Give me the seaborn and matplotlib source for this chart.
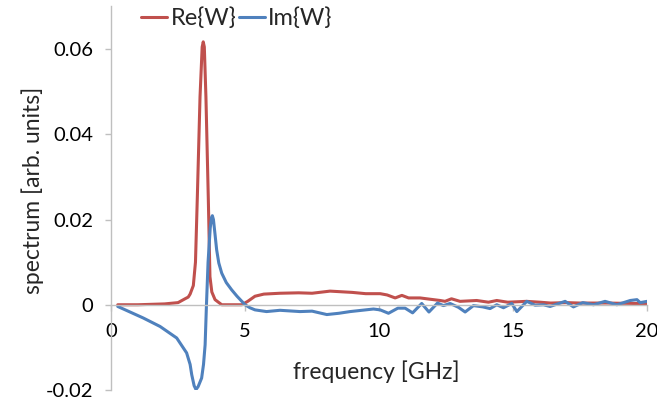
"""Re/Im spectrum of W vs frequency"""

import pandas as pd
import matplotlib
matplotlib.use("Agg")
import matplotlib.pyplot as plt
import seaborn as sns

re_freq = [0.25, 1.0, 2.0, 2.5, 2.76, 2.88, 2.95, 3.07, 3.15, 3.22, 3.32, 3.40, 3.44,
           3.48, 3.54, 3.63, 3.69, 3.76, 3.88, 4.13, 4.88, 5.1, 5.37, 5.7, 6.3, 7.0,
           7.5, 8.17, 9.0, 9.5, 10.04, 10.3, 10.6, 10.85, 11.1, 11.53, 11.9, 12.28,
           12.46, 12.7, 13.02, 13.64, 14.08, 14.39, 14.8, 15.5, 16.0, 16.4, 17.0,
           17.5, 18.5, 19.5, 20.0]
re_vals = [0.0000, 0.0000, 0.0002, 0.0005, 0.0014, 0.0018, 0.0025, 0.0045, 0.0100,
           0.0254, 0.0488, 0.0605, 0.0617, 0.0605, 0.0488, 0.0246, 0.0066, 0.0030,
           0.0012, 0.0000, 0.0000, 0.0008, 0.0020, 0.0025, 0.0027, 0.0028, 0.0027,
           0.0032, 0.0029, 0.0026, 0.0026, 0.0023, 0.0016, 0.0022, 0.0016, 0.0016,
           0.0013, 0.0010, 0.0008, 0.0014, 0.0008, 0.0010, 0.0006, 0.0010, 0.0006,
           0.0008, 0.0006, 0.0004, 0.0005, 0.0004, 0.0004, 0.0003, 0.0003]

im_freq = [0.25, 1.2, 1.83, 2.45, 2.82, 2.95, 3.01, 3.10, 3.17, 3.25, 3.38, 3.45,
           3.51, 3.56, 3.62, 3.70, 3.75, 3.78, 3.82, 3.88, 3.94, 4.02, 4.13, 4.30,
           4.50, 4.70, 4.88, 5.0, 5.18, 5.37, 5.8, 6.3, 7.05, 7.5, 8.05, 8.5, 8.92,
           9.79, 10.04, 10.35, 10.7, 10.97, 11.25, 11.59, 11.86, 12.18, 12.4, 12.65,
           12.96, 13.21, 13.52, 13.87, 14.14, 14.39, 14.64, 14.95, 15.14, 15.51,
           15.82, 16.13, 16.38, 16.94, 17.25, 17.6, 18.0, 18.43, 18.87, 19.37,
           19.62, 19.74, 20.0]
im_vals = [-0.0004, -0.0031, -0.0051, -0.0078, -0.0113, -0.0140, -0.0164, -0.0190,
           -0.0199, -0.0192, -0.0172, -0.0140, -0.0094, 0.0000, 0.0100, 0.0180,
           0.0205, 0.0209, 0.0200, 0.0165, 0.0129, 0.0098, 0.0074, 0.0052, 0.0035,
           0.0020, 0.0008, 0.0000, -0.0007, -0.0012, -0.0016, -0.0013, -0.0016,
           -0.0015, -0.0023, -0.0020, -0.0016, -0.0010, -0.0012, -0.0020, -0.0008,
           -0.0008, -0.0019, 0.0003, -0.0017, 0.0004, -0.0002, 0.0003, -0.0006,
           -0.0017, -0.0002, -0.0005, -0.0009, 0.0000, -0.0007, 0.0003, -0.0016,
           0.0008, -0.0001, 0.0000, -0.0004, 0.0008, -0.0005, 0.0005, 0.0000,
           0.0008, 0.0000, 0.0010, 0.0012, 0.0005, 0.0008]

series_names = ["Re{W}", "Im{W}"]
x_ticks = [0, 5, 10, 15, 20]
y_ticks = [-0.02, 0, 0.02, 0.04, 0.06]
y_tick_labels = ["-0.02", "0", "0.02", "0.04", "0.06"]

df = pd.concat([
    pd.DataFrame({"freq": re_freq, "value": re_vals, "series": series_names[0]}),
    pd.DataFrame({"freq": im_freq, "value": im_vals, "series": series_names[1]}),
])

sns.set_style("white")
plt.rcParams["font.family"] = ["Lato", "DejaVu Sans"]

fig = plt.figure(figsize=(6.57, 4.04), dpi=100)
ax = fig.add_axes([0.169, 0.0347, 0.816, 0.9493])

sns.lineplot(data=df, x="freq", y="value", hue="series", estimator=None, sort=False,
             palette={"Re{W}": "#C0504D", "Im{W}": "#4F81BD"}, linewidth=2.2, ax=ax)

ax.set_xlim(0, 20)
ax.set_ylim(-0.02, 0.07)
ax.set_xticks(x_ticks)
ax.set_xticklabels([str(t) for t in x_ticks])
ax.set_yticks(y_ticks)
ax.set_yticklabels(y_tick_labels)

ax.spines["bottom"].set_position(("data", 0))
for side in ["top", "right"]:
    ax.spines[side].set_visible(False)
for side in ["left", "bottom"]:
    ax.spines[side].set_color("#BFBFBF")
    ax.spines[side].set_linewidth(1.0)

ax.tick_params(axis="x", length=4, width=1, color="#BFBFBF", pad=9,
               labelsize=14.5, labelcolor="black", direction="out", bottom=True)
ax.tick_params(axis="y", length=4, width=1, color="#BFBFBF", pad=9,
               labelsize=14.5, labelcolor="black", direction="out", left=True)

ax.set_xlabel("frequency [GHz]", fontsize=16.5)
ax.xaxis.label.set_va("center")
ax.xaxis.set_label_coords(0.495, 0.047)
ax.set_ylabel("spectrum [arb. units]", fontsize=16.5)
ax.yaxis.label.set_va("center")
ax.yaxis.set_label_coords(-0.147, 0.52)

handles, labels = ax.get_legend_handles_labels()
ax.legend(handles, labels, ncol=2, frameon=False, fontsize=17,
          loc="center left", bbox_to_anchor=(141 / 657, 1 - 18 / 404),
          bbox_transform=fig.transFigure, borderpad=0, borderaxespad=0,
          handlelength=1.1, handletextpad=0.15, columnspacing=0.1)

fig.savefig("out.png", dpi=100)
